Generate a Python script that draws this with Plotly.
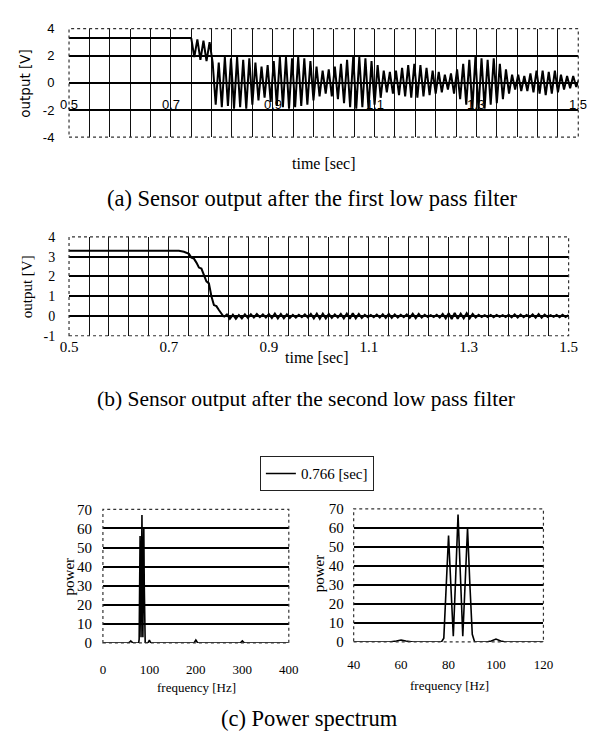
import plotly.graph_objects as go

# ---------------- data ----------------
time_ticks = [0.5, 0.7, 0.9, 1.1, 1.3, 1.5]
time_tick_text = ["0.5", "0.7", "0.9", "1.1", "1.3", "1.5"]

# (a) sensor output after first low pass filter
a_flat_t = [0.50, 0.74]
a_flat_v = [3.3, 3.3]
a_osc_t0 = 0.74
a_osc_dt = 0.006
a_osc_v = [
    3.3, 1.9, 3.2, 1.7, 3.1, 1.6, 3.0, 1.5,
    -1.6, 1.5, -1.8, 1.9, -1.7, 1.8, -1.9, 1.9, -1.8, 1.7, -1.9, 1.8,
    -1.6, 1.5, -1.3, 1.2, -1.1, 1.3, -1.4, 1.6, -1.7, 1.9,
    -1.8, 1.9, -1.9, 1.8, -1.8, 1.9, -1.7, 1.8, -1.6, 1.6,
    -1.3, 1.2, -1.0, 0.9, -0.8, 1.0, -1.0, 1.2, -1.2, 1.4,
    -1.5, 1.7, -1.8, 1.9, -1.9, 1.9, -1.8, 1.8, -1.9, 1.6,
    -1.6, 1.3, -1.1, 0.9, -0.7, 0.8, -0.8, 0.9, -0.9, 1.1,
    -1.0, 1.3, -1.1, 1.4, -1.1, 1.3, -1.0, 1.1, -0.9, 0.9,
    -0.8, 0.8, -0.7, 0.6, -0.5, 0.7, -0.8, 1.0, -1.2, 1.4,
    -1.6, 1.7, -1.9, 1.9, -2.0, 1.8, -1.9, 1.7, -1.6, 1.8,
    -1.5, 1.4, -1.2, 1.0, -0.8, 0.6, -0.5, 0.6, -0.6, 0.5,
    -0.6, 0.7, -0.7, 0.9, -0.8, 0.9, -0.9, 0.8, -0.8, 0.9,
    -0.7, 0.6, -0.5, 0.5, -0.4, 0.5, -0.3, 0.3,
]

# (b) sensor output after second low pass filter
b_fall_t = [0.50, 0.72, 0.73, 0.74, 0.745, 0.75, 0.755, 0.76, 0.765, 0.77,
            0.775, 0.78, 0.785, 0.79, 0.795, 0.80, 0.805, 0.81]
b_fall_v = [3.3, 3.3, 3.25, 3.15, 2.95, 2.9, 2.7, 2.45, 2.4, 2.1,
            1.75, 1.65, 1.0, 0.55, 0.5, 0.3, 0.1, -0.05]
b_rip_t0 = 0.81
b_rip_dt = 0.006
b_rip_v = [
    -0.05, 0.08, -0.14, 0.06, -0.15, 0.05, -0.12, 0.08, -0.10, 0.09,
    -0.08, 0.10, -0.06, 0.08, -0.08, 0.10, -0.10, 0.12, -0.12, 0.10,
    -0.12, 0.08, -0.10, 0.06, -0.08, 0.06, -0.06, 0.08, -0.08, 0.10,
    -0.12, 0.12, -0.14, 0.12, -0.12, 0.10, -0.10, 0.08, -0.08, 0.10,
    -0.12, 0.12, -0.14, 0.14, -0.12, 0.10, -0.10, 0.06, -0.06, 0.05,
    -0.06, 0.07, -0.08, 0.09, -0.10, 0.10, -0.10, 0.08, -0.08, 0.06,
    -0.06, 0.08, -0.10, 0.11, -0.11, 0.10, -0.08, 0.06, -0.05, 0.04,
    -0.05, 0.06, -0.08, 0.10, -0.12, 0.14, -0.15, 0.15, -0.14, 0.12,
    -0.12, 0.14, -0.12, 0.10, -0.08, 0.06, -0.05, 0.04, -0.05, 0.05,
    -0.06, 0.05, -0.04, 0.04, -0.05, 0.06, -0.07, 0.08, -0.08, 0.07,
    -0.06, 0.05, -0.06, 0.08, -0.09, 0.10, -0.09, 0.07, -0.05, 0.04,
    -0.04, 0.05, -0.06, 0.06, -0.05, 0.04,
]

# (c) power spectrum at 0.766 sec
spec_label = "0.766 [sec]"
spec_freq = [0, 20, 40, 55, 58, 60, 62, 65, 70, 76, 77, 78, 79, 80, 81, 82, 83, 84,
             85, 86, 87, 88, 89, 90, 91, 92, 96, 98, 100, 102, 104, 120, 150, 196,
             200, 204, 250, 296, 300, 304, 350, 400]
spec_power = [0, 0, 0, 0, 0.5, 1, 0.5, 0, 0, 0, 0, 2, 28, 56, 29, 3, 34, 67,
              35, 3, 31, 60, 30, 4, 0, 0, 0, 0.5, 1.5, 0.5, 0, 0, 0, 0,
              1.5, 0, 0, 0, 1, 0, 0, 0]

a_yticks = [-4, -2, 0, 2, 4]
b_yticks = [-1, 0, 1, 2, 3, 4]
c_yticks = [0, 10, 20, 30, 40, 50, 60, 70]
c1_xticks = [0, 100, 200, 300, 400]
c2_xticks = [40, 60, 80, 100, 120]

caption_a = "(a) Sensor output after the first low pass filter"
caption_b = "(b) Sensor output after the second low pass filter"
caption_c = "(c) Power spectrum"

# ---------------- layout helpers ----------------
W, H = 597, 738
def px(x):
    return x / W
def py(y):
    return 1 - y / H

SERIF = "Liberation Serif"
SANS = "Liberation Sans"
WIDE = "DejaVu Sans"
INK = "black"

fig = go.Figure()

# (a)
fig.add_trace(go.Scatter(x=a_flat_t, y=a_flat_v, mode="lines",
                         line=dict(color=INK, width=2), xaxis="x", yaxis="y",
                         showlegend=False))
fig.add_trace(go.Scatter(x0=a_osc_t0, dx=a_osc_dt, y=a_osc_v, mode="lines",
                         line=dict(color=INK, width=2), xaxis="x", yaxis="y",
                         showlegend=False))
# (b)
fig.add_trace(go.Scatter(x=b_fall_t, y=b_fall_v, mode="lines",
                         line=dict(color=INK, width=2), xaxis="x2", yaxis="y2",
                         showlegend=False))
fig.add_trace(go.Scatter(x0=b_rip_t0, dx=b_rip_dt, y=b_rip_v, mode="lines",
                         line=dict(color=INK, width=2), xaxis="x2", yaxis="y2",
                         showlegend=False))
# (c)
fig.add_trace(go.Scatter(x=spec_freq, y=spec_power, mode="lines", name=spec_label,
                         line=dict(color=INK, width=1.6), xaxis="x3", yaxis="y3",
                         showlegend=True))
fig.add_trace(go.Scatter(x=spec_freq, y=spec_power, mode="lines", name=spec_label,
                         line=dict(color=INK, width=1.6), xaxis="x4", yaxis="y4",
                         showlegend=False))

clear = "rgba(0,0,0,0)"

fig.update_layout(
    width=W, height=H, autosize=False,
    margin=dict(l=0, r=0, t=0, b=0),
    paper_bgcolor="white", plot_bgcolor="white",
    font=dict(family=SERIF, color=INK),
    # (a)
    xaxis=dict(domain=[px(62), px(588)], range=[0.5, 1.5], anchor="y",
               tick0=0.5, dtick=0.04, showticklabels=False, ticks="",
               showgrid=True, gridcolor="#111", gridwidth=1.3,
               zeroline=False, showline=False),
    yaxis=dict(domain=[py(132), py(21)], range=[-4, 4], anchor="x",
               tickvals=a_yticks, ticktext=[str(v) for v in a_yticks],
               ticks="outside", ticklen=11, tickcolor=clear,
               tickfont=dict(family=SANS, size=13, color=INK),
               showgrid=True, gridcolor=INK, gridwidth=2,
               zeroline=False, showline=False),
    # (b)
    xaxis2=dict(domain=[px(62), px(578)], range=[0.5, 1.5], anchor="y2",
                tickvals=time_ticks, ticktext=time_tick_text, ticks="",
                tickfont=dict(family=SERIF, size=15, color=INK),
                showgrid=True, gridcolor="#111", gridwidth=1.3,
                minor=dict(tick0=0.5, dtick=0.04, showgrid=True,
                           gridcolor="#111", gridwidth=1.3),
                zeroline=False, showline=False),
    yaxis2=dict(domain=[py(335), py(234)], range=[-1, 4], anchor="x2",
                tickvals=b_yticks, ticktext=[str(v) for v in b_yticks],
                ticks="outside", ticklen=10, tickcolor=clear,
                tickfont=dict(family=SERIF, size=14, color=INK),
                showgrid=True, gridcolor=INK, gridwidth=2,
                zeroline=False, showline=False),
    # (c) left
    xaxis3=dict(domain=[px(97), px(289)], range=[0, 400], anchor="y3",
                tickvals=c1_xticks, ticks="outside", ticklen=14, tickcolor=clear,
                tickfont=dict(family=SERIF, size=13, color=INK),
                showgrid=False, zeroline=False, showline=False),
    yaxis3=dict(domain=[py(649), py(512.5)], range=[0, 70], anchor="x3",
                tickvals=c_yticks, ticks="outside", ticklen=7, tickcolor=clear,
                tickfont=dict(family=SERIF, size=15, color=INK),
                showgrid=True, gridcolor=INK, gridwidth=2,
                zeroline=False, showline=False),
    # (c) right
    xaxis4=dict(domain=[px(356), px(552)], range=[40, 120], anchor="y4",
                tickvals=c2_xticks, ticks="outside", ticklen=10, tickcolor=clear,
                tickfont=dict(family=SERIF, size=13, color=INK),
                showgrid=False, zeroline=False, showline=False),
    yaxis4=dict(domain=[py(648), py(512)], range=[0, 70], anchor="x4",
                tickvals=c_yticks, ticks="outside", ticklen=6, tickcolor=clear,
                tickfont=dict(family=SERIF, size=15, color=INK),
                showgrid=True, gridcolor=INK, gridwidth=2,
                zeroline=False, showline=False),
    legend=dict(x=px(318), y=py(476), xanchor="center", yanchor="middle",
                bordercolor="#222", borderwidth=1, bgcolor="white",
                font=dict(family=SERIF, size=15, color=INK),
                itemwidth=30, tracegroupgap=0),
)

# dotted frames around each plot area
for xr, yr in [("x", "y"), ("x2", "y2"), ("x3", "y3"), ("x4", "y4")]:
    fig.add_shape(type="rect", xref=f"{xr} domain", yref=f"{yr} domain",
                  x0=0, x1=1, y0=0, y1=1,
                  line=dict(color="#333", width=1.2, dash="dot"), layer="above")

annotations = []
# (a) time tick labels sit on the -2 V line
for tv, tt in zip(time_ticks, time_tick_text):
    annotations.append(dict(x=tv, y=-2, xref="x", yref="y", text=tt,
                            showarrow=False, xanchor="center", yanchor="bottom",
                            yshift=-4, font=dict(family=SANS, size=13, color=INK)))

def label(x, y, text, size, family=SERIF, angle=0):
    annotations.append(dict(x=px(x), y=py(y), xref="paper", yref="paper",
                            text=text, showarrow=False, xanchor="center",
                            yanchor="middle", textangle=angle,
                            font=dict(family=family, size=size, color=INK)))

label(17, 77, "output [V]", 13.5, WIDE, -90)
label(325, 159, "time [sec]", 16)
label(313, 195, caption_a, 22.5)
label(18, 285, "output [V]", 15, SERIF, -90)
label(318, 357, "time [sec]", 16)
label(307, 400, caption_b, 21.5)
label(62, 581, "power", 15, SERIF, -90)
label(321, 578, "power", 15, SERIF, -90)
label(194, 695, "frequency [Hz]", 13)
label(455, 693, "frequency [Hz]", 13)
label(310, 726, caption_c, 22.5)

fig.update_layout(annotations=annotations)
fig.write_html("out.html", config={"displayModeBar": False},
               post_script="document.body.style.margin='0px';")
